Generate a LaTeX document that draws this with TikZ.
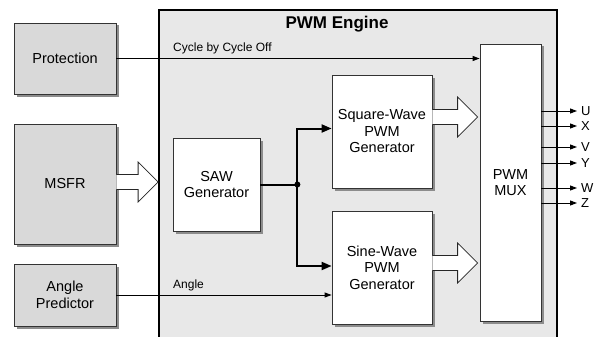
\documentclass[tikz,border=0pt]{standalone}
\usepackage{fontspec}
\setmainfont{Liberation Sans}
\usetikzlibrary{arrows.meta,calc,shadows}
\tikzset{%
  block/.style={draw=black!80,line width=0.8pt,align=center,inner sep=0pt,
    font=\fontsize{14.5}{16.5}\selectfont,
    drop shadow={shadow xshift=2.5pt,shadow yshift=-2.5pt,fill=black!45,opacity=1}},
  fat/.style={draw=black!85,line width=0.8pt,fill=white}%
}
% hollow block arrow: start point, end node (tip on its x)
\newcommand{\fatarrow}[2]{%
  \draw[fat] let \p1=#1, \p2=#2 in
    ({\x1},{\y1+7.5pt}) -- ({\x2-20pt},{\y1+7.5pt}) -- ({\x2-20pt},{\y1+20pt})
    -- ({\x2},{\y1}) -- ({\x2-20pt},{\y1-20pt}) -- ({\x2-20pt},{\y1-7.5pt})
    -- ({\x1},{\y1-7.5pt});}

\begin{document}
\begin{tikzpicture}[
    x=1pt,y=-1pt,
    inbox/.style={block,fill=black!15,minimum width=102pt},
    genbox/.style={block,fill=white,minimum width=100pt,minimum height=113pt},
    sig/.style={line width=0.9pt,-{Triangle[length=7pt,width=5pt]}},
    bus/.style={line width=2pt,-{Triangle[length=10pt,width=8pt]}},
    lbl/.style={font=\fontsize{12}{14}\selectfont,inner sep=0pt},
    outlbl/.style={font=\fontsize{13}{15}\selectfont,inner sep=0pt,anchor=west}
]
\clip (0,0) rectangle (594,337);

% PWM engine frame
\node[draw,line width=1.8pt,fill=black!9,minimum width=398pt,minimum height=340pt,inner sep=0pt] (engine) at (358,180) {};
\node[font=\bfseries\fontsize{17}{20}\selectfont] (title) at (337,24) {PWM Engine};

% external blocks
\node[inbox,minimum height=71pt] (prot) at (65,58.5) {Protection};
\node[inbox,minimum height=120pt] (msfr) at (65,184) {MSFR};
\node[inbox,minimum height=62pt] (angle) at (65,295) {Angle\\Predictor};

% engine blocks
\node[block,fill=white,minimum width=87pt,minimum height=93pt] (saw) at (216.5,184.5) {SAW\\Generator};
\node[genbox] (square) at (382,131.5) {Square-Wave\\PWM\\Generator};
\node[genbox] (sine) at (382,267.5) {Sine-Wave\\PWM\\Generator};
\node[block,fill=white,minimum width=61pt,minimum height=277pt] (mux) at (510.5,182.5) {PWM\\MUX};

% thin signals
\draw[sig] (prot.east) -- (prot.east -| mux.west);
\node[lbl,anchor=base west] (cyclbl) at (173,52) {Cycle by Cycle Off};
\draw[sig] (angle.east) -- (angle.east -| sine.west);
\node[lbl,anchor=base west] (anglbl) at (173,288) {Angle};

% saw bus
\coordinate (junc) at ($(saw.east)+(37,0)$);
\draw[line width=2pt] (saw.east) -- (junc);
\fill (junc) circle (3pt);
\draw[bus] (junc) |- ([yshift=3pt]square.west);
\draw[bus] (junc) |- ([yshift=1.5pt]sine.west);

% block arrows
\fatarrow{([yshift=2pt]msfr.east)}{(engine.west)}
\fatarrow{([yshift=14.5pt]square.east)}{([xshift=-2pt]mux.west)}
\fatarrow{([yshift=4.5pt]sine.east)}{([xshift=-2pt]mux.west)}

% outputs
\foreach \out/\yy in {U/111,X/126,V/147,Y/163,W/188,Z/203}{
  \coordinate (o\out) at (577,\yy);
  \draw[sig] (mux.east |- o\out) -- (o\out);
  \node[outlbl] (l\out) at ([xshift=4pt]o\out) {\out};
}
\end{tikzpicture}
\end{document}
